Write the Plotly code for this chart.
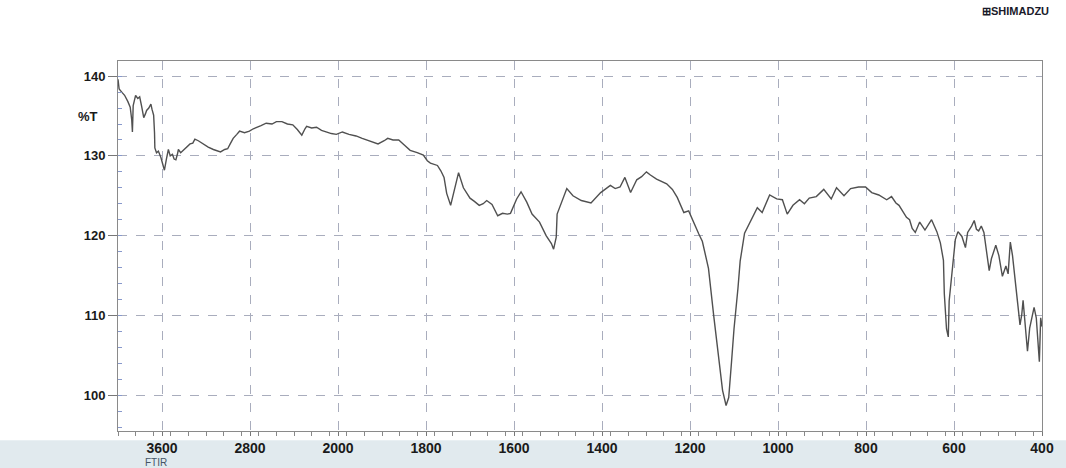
import plotly.graph_objects as go

# ---- data ----
wavenumber = [
    4000, 3990, 3960, 3940, 3910, 3889, 3875, 3869, 3862, 3840, 3820, 3803, 3785, 3766, 3750, 3740,
    3720, 3701, 3690, 3676, 3668, 3665, 3650, 3633, 3610, 3595, 3578, 3560, 3542, 3525, 3505, 3490,
    3474, 3460, 3451, 3430, 3404, 3380, 3345, 3320, 3301, 3270, 3226, 3180, 3133, 3100, 3068, 3030,
    3003, 2980, 2953, 2920, 2895, 2850, 2805, 2770, 2742, 2700, 2653, 2600, 2560, 2510, 2460, 2411,
    2370, 2329, 2300, 2285, 2240, 2195, 2150, 2106, 2060, 2015, 1990, 1975, 1959, 1945, 1930, 1909,
    1895, 1887, 1875, 1862, 1850, 1836, 1820, 1806, 1797, 1790, 1774, 1766, 1759, 1753, 1744, 1735,
    1726, 1715, 1700, 1690, 1679, 1670, 1662, 1650, 1637, 1626, 1615, 1608, 1594, 1584, 1571, 1559,
    1542, 1527, 1515, 1510, 1504, 1502, 1492, 1480, 1466, 1447, 1425, 1403, 1381, 1370, 1359, 1348,
    1335, 1321, 1310, 1299, 1290, 1276, 1253, 1240, 1229, 1214, 1203, 1190, 1180, 1172, 1167, 1158,
    1146, 1138, 1126, 1118, 1112, 1106, 1100, 1091, 1086, 1076, 1062, 1047, 1036, 1019, 1003, 990,
    979, 966, 951, 940, 929, 913, 896, 879, 867, 850, 835, 817, 801, 787, 771, 753,
    742, 732, 725, 718, 708, 701, 695, 688, 678, 666, 651, 639, 631, 624, 622, 617,
    613, 611, 602, 597, 591, 582, 574, 569, 560, 554, 549, 544, 538, 532, 520, 515,
    505, 498, 490, 482, 477, 472, 467, 458, 450, 446, 443, 433, 428, 418, 413, 406,
    403, 400,
]
transmittance = [
    139.6, 138.4, 137.9, 137.6, 136.8, 136.1, 134.5, 133.0, 136.3, 137.6, 137.2, 137.4, 136.2, 134.8, 135.3, 135.7,
    136.0, 136.5, 135.8, 135.1, 132.9, 131.0, 130.4, 130.6, 129.8, 129.0, 128.2, 129.6, 130.8, 130.0, 130.2, 129.6,
    129.5, 130.2, 130.8, 130.4, 130.7, 131.0, 131.5, 131.6, 132.1, 131.9, 131.5, 131.1, 130.8, 130.6, 130.5, 130.8,
    130.9, 131.5, 132.2, 132.7, 133.1, 132.9, 133.1, 133.4, 133.6, 133.8, 134.1, 134.0, 134.3, 134.3, 134.0, 133.9,
    133.3, 132.6, 133.4, 133.7, 133.5, 133.6, 133.2, 133.0, 132.8, 132.7, 133.0, 132.7, 132.5, 132.2, 131.9, 131.5,
    131.9, 132.2, 132.0, 132.0, 131.4, 130.7, 130.4, 130.1, 129.4, 129.1, 128.8, 128.1, 127.3, 125.3, 123.8, 125.7,
    127.9, 126.0, 124.7, 124.3, 123.8, 124.0, 124.4, 123.9, 122.5, 122.8, 122.7, 122.8, 124.6, 125.5, 124.2, 122.7,
    121.7, 120.0, 119.0, 118.3, 119.8, 122.7, 124.1, 125.9, 125.0, 124.4, 124.1, 125.4, 126.3, 125.9, 126.1, 127.3,
    125.4, 127.0, 127.4, 128.0, 127.6, 127.1, 126.5, 125.8, 124.8, 122.9, 123.1, 121.4, 120.2, 119.3, 118.0, 115.9,
    109.9, 106.1, 100.6, 98.7, 99.7, 103.9, 108.3, 113.4, 116.8, 120.3, 121.8, 123.5, 122.9, 125.1, 124.6, 124.5,
    122.7, 123.8, 124.5, 124.0, 124.7, 124.9, 125.8, 124.6, 126.0, 125.0, 125.9, 126.1, 126.1, 125.4, 125.1, 124.5,
    124.9, 124.1, 123.8, 123.2, 122.3, 122.0, 120.9, 120.4, 121.7, 120.7, 122.0, 120.5, 119.1, 116.9, 112.7, 108.3,
    107.3, 111.8, 116.9, 119.5, 120.5, 119.9, 118.5, 120.4, 121.2, 121.9, 120.8, 120.6, 121.2, 120.4, 115.6, 117.1,
    118.8, 117.5, 114.9, 116.2, 115.2, 119.2, 117.5, 112.7, 108.8, 110.1, 111.9, 105.5, 108.4, 111.0, 109.7, 104.2,
    109.7, 108.6,
]

x_tick_labels = [3600, 2800, 2000, 1800, 1600, 1400, 1200, 1000, 800, 600, 400]
y_tick_values = [100, 110, 120, 130, 140]


# Shimadzu-style compressed wavenumber scale: 800 cm-1/div above 2000, 200 cm-1/div below
def scale_pos(wn):
    if wn >= 2000:
        return (4000 - wn) / 800.0
    return 2.5 + (2000 - wn) / 200.0


xpos = [scale_pos(w) for w in wavenumber]
tickpos = [scale_pos(w) for w in x_tick_labels]

fig = go.Figure()
fig.add_trace(go.Scatter(
    x=xpos, y=transmittance, mode="lines",
    line=dict(color="#505050", width=1.4),
    showlegend=False, hoverinfo="skip",
))

tickfont = dict(family="Liberation Sans, Arial, sans-serif", size=14, color="#1a1a1a")

fig.update_layout(
    width=1066, height=468,
    margin=dict(l=118, r=14, t=61, b=36),
    paper_bgcolor="white", plot_bgcolor="white",
    xaxis=dict(
        range=[0, 10.5], tickmode="array", tickvals=tickpos,
        ticktext=[f"<b>{v}</b>" for v in x_tick_labels],
        tickfont=tickfont, ticks="outside", ticklen=4, tickcolor="#777",
        showgrid=True, gridcolor="#a9adbd", griddash="dash", gridwidth=1,
        showline=True, linecolor="#8a8a8a", linewidth=1, mirror=True,
        zeroline=False,
        minor=dict(tickmode="linear", tick0=0, dtick=0.2, ticks="outside",
                   ticklen=4, tickcolor="#888", showgrid=False),
    ),
    yaxis=dict(
        range=[95.5, 141.9], tickmode="array", tickvals=y_tick_values,
        ticktext=[f"<b>{v}</b>" for v in y_tick_values],
        tickfont=dict(family="Liberation Sans, Arial, sans-serif", size=13, color="#1a1a1a"),
        ticks="outside", ticklen=9, tickcolor="#777",
        showgrid=True, gridcolor="#a9adbd", griddash="dash", gridwidth=1,
        showline=True, linecolor="#8a8a8a", linewidth=1, mirror=True,
        zeroline=False,
        minor=dict(tickmode="linear", tick0=100, dtick=2, ticks="inside",
                   ticklen=4, tickcolor="#8899cc", showgrid=False),
    ),
    shapes=[
        dict(type="rect", xref="paper", yref="paper", x0=-0.2, x1=1.05,
             y0=-0.025, y1=-0.2, fillcolor="rgba(170,195,205,0.35)",
             line=dict(width=0), layer="below"),
    ],
    annotations=[
        dict(text="<b>%T</b>", xref="paper", yref="paper", x=-0.02, y=0.85,
             xanchor="right", yanchor="middle", showarrow=False,
             font=dict(family="Liberation Sans, Arial, sans-serif", size=13, color="#1a1a1a")),
        dict(text="<b>⊞SHIMADZU</b>", xref="paper", yref="paper", x=1.01, y=1.135,
             xanchor="right", yanchor="middle", showarrow=False,
             font=dict(family="Liberation Sans, Arial, sans-serif", size=11, color="#1a1a2a")),
        dict(text="FTIR", xref="paper", yref="paper", x=0.027, y=-0.084,
             xanchor="left", yanchor="middle", showarrow=False,
             font=dict(family="Liberation Sans, Arial, sans-serif", size=10, color="#445566")),
    ],
)

fig.write_html("out.html")
